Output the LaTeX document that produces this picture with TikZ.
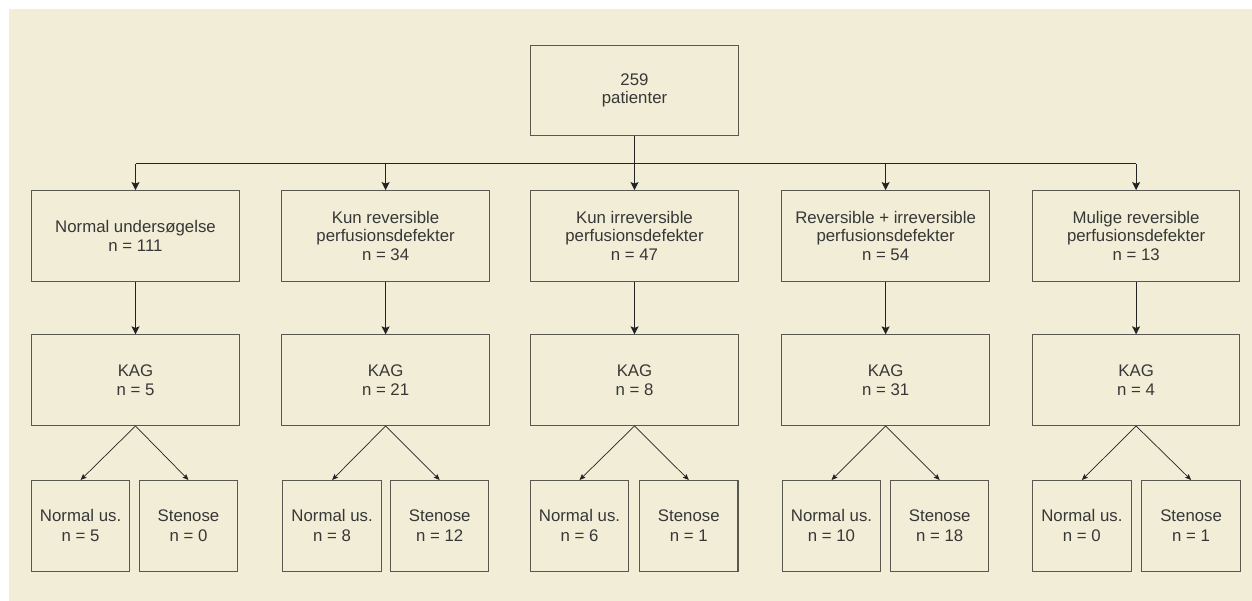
\documentclass[tikz,border=0pt]{standalone}
\usepackage{fontspec}
\setmainfont{Liberation Sans}
\usetikzlibrary{arrows.meta}
\definecolor{bg}{RGB}{241,237,214}
\definecolor{boxline}{RGB}{88,88,80}
\definecolor{txt}{RGB}{55,55,55}
\definecolor{ln}{RGB}{35,35,35}
\begin{document}
\begin{tikzpicture}[x=1pt,y=-1pt,
  bigbox/.style={draw=boxline, line width=1.1pt, minimum width=207.6pt, minimum height=90.5pt,
    align=center, text=txt, inner sep=0pt, font=\fontsize{16.8}{18.7}\selectfont},
  smallbox/.style={bigbox, minimum width=98.4pt, font=\fontsize{16.8}{20}\selectfont},
  railline/.style={draw=ln, line width=1.2pt},
  arr/.style={railline, -{Stealth[length=8pt,width=8pt,inset=1.5pt]}},
  darr/.style={draw=ln, line width=0.7pt, -{Stealth[length=6pt,width=5pt,inset=1pt]}}]
\useasboundingbox (0,0) rectangle (1252,601);
\fill[white] (0,0) rectangle (1252,601);
\fill[bg] (9,9) rectangle (1252,600.5);

% top
\node[bigbox] (top) at (634.5,90.5) {259\\patienter};

% row 1
\node[bigbox] (r1a) at (135.5,235.9) {Normal undersøgelse\\n = 111};
\node[bigbox] (r1b) at (385.6,235.9) {Kun reversible\\perfusionsdefekter\\n = 34};
\node[bigbox] (r1c) at (634.5,235.9) {Kun irreversible\\perfusionsdefekter\\n = 47};
\node[bigbox] (r1d) at (885.6,235.9) {Reversible + irreversible\\perfusionsdefekter\\n = 54};
\node[bigbox] (r1e) at (1136.1,235.9) {Mulige reversible\\perfusionsdefekter\\n = 13};

% row 2
\node[bigbox] (r2a) at (135.5,380.2) {KAG\\n = 5};
\node[bigbox] (r2b) at (385.6,380.2) {KAG\\n = 21};
\node[bigbox] (r2c) at (634.5,380.2) {KAG\\n = 8};
\node[bigbox] (r2d) at (885.6,380.2) {KAG\\n = 31};
\node[bigbox] (r2e) at (1136.1,380.2) {KAG\\n = 4};

% row 3
\node[smallbox] (r3a1) at (80.6,525.8) {Normal us.\\n = 5};
\node[smallbox] (r3a2) at (188.5,525.8) {Stenose\\n = 0};
\node[smallbox] (r3b1) at (332.1,525.8) {Normal us.\\n = 8};
\node[smallbox] (r3b2) at (439.7,525.8) {Stenose\\n = 12};
\node[smallbox] (r3c1) at (579.5,525.8) {Normal us.\\n = 6};
\node[smallbox] (r3c2) at (688.8,525.8) {Stenose\\n = 1};
\node[smallbox] (r3d1) at (831.5,525.8) {Normal us.\\n = 10};
\node[smallbox] (r3d2) at (939.7,525.8) {Stenose\\n = 18};
\node[smallbox] (r3e1) at (1081.9,525.8) {Normal us.\\n = 0};
\node[smallbox] (r3e2) at (1191.1,525.8) {Stenose\\n = 1};

% rail
\coordinate (rail) at (0,163.6);
\draw[railline] (r1a.north |- rail) -- (r1e.north |- rail);
\draw[arr] (top.south) -- (r1c.north);
\foreach \n in {r1a,r1b,r1d,r1e}
  \draw[arr] (\n.north |- rail) -- (\n.north);

% row1 -> row2
\foreach \c in {a,b,c,d,e}
  \draw[arr] (r1\c.south) -- (r2\c.north);

% row2 -> row3
\foreach \c in {a,b,c,d,e} {
  \draw[darr] (r2\c.south) -- (r3\c1.north);
  \draw[darr] (r2\c.south) -- (r3\c2.north);
}
\end{tikzpicture}
\end{document}
